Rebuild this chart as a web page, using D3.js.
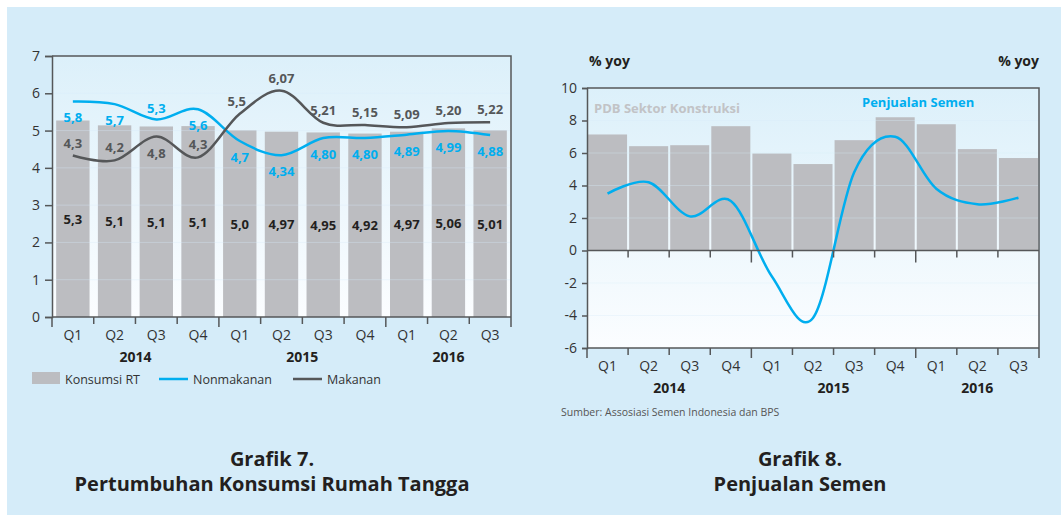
<!DOCTYPE html>
<html>
<head>
<meta charset="utf-8">
<script src="https://cdn.jsdelivr.net/npm/d3@7"></script>
<style>
  body { margin: 0; background: #fff; }
  svg { display: block; font-family: "Open Sans", "Noto Sans", sans-serif; }
</style>
</head>
<body>
<div id="chart"></div>
<script>
// Data
const quarters = ["Q1", "Q2", "Q3", "Q4", "Q1", "Q2", "Q3", "Q4", "Q1", "Q2", "Q3"];
const periods = ["2014Q1", "2014Q2", "2014Q3", "2014Q4", "2015Q1", "2015Q2", "2015Q3", "2015Q4", "2016Q1", "2016Q2", "2016Q3"];
const years = ["2014", "2015", "2016"];
const yearCounts = [4, 4, 3];

// Grafik 7
const konsumsiRT = [5.27, 5.14, 5.11, 5.12, 5.01, 4.97, 4.95, 4.92, 4.97, 5.06, 5.01];
const konsumsiLabels = ["5,3", "5,1", "5,1", "5,1", "5,0", "4,97", "4,95", "4,92", "4,97", "5,06", "5,01"];
const nonmakanan = [5.78, 5.71, 5.3, 5.57, 4.72, 4.34, 4.80, 4.80, 4.89, 4.99, 4.88];
const nonmakananLabels = ["5,8", "5,7", "5,3", "5,6", "4,7", "4,34", "4,80", "4,80", "4,89", "4,99", "4,88"];
const makanan = [4.33, 4.2, 4.84, 4.28, 5.45, 6.07, 5.21, 5.15, 5.09, 5.20, 5.22];
const makananLabels = ["4,3", "4,2", "4,8", "4,3", "5,5", "6,07", "5,21", "5,15", "5,09", "5,20", "5,22"];
const yTicks7 = [0, 1, 2, 3, 4, 5, 6, 7];

// Grafik 8
const konstruksi = [7.14, 6.42, 6.48, 7.65, 5.97, 5.32, 6.79, 8.2, 7.77, 6.24, 5.69];
const semen = [3.5, 4.2, 2.1, 3.05, -1.6, -4.15, 4.8, 7.0, 3.8, 2.85, 3.25];
const yTicks8 = [-6, -4, -2, 0, 2, 4, 6, 8, 10];

// label placement: 1 = below the point, -1 = above
const nonmakSide = [1, 1, -1, 1, 1, 1, 1, 1, 1, 1, 1];
const makSide = [-1, -1, 1, -1, -1, -1, -1, -1, -1, -1, -1];

const blue = "#00aeef";
const dark = "#555759";
const barColor = "#bcbdc1";
const textColor = "#333";

const width = 1061, height = 515;
const svg = d3.select("#chart").append("svg")
  .attr("width", width).attr("height", height)
  .attr("viewBox", [0, 0, width, height]);

const defs = svg.append("defs");
const grad = defs.append("linearGradient").attr("id", "plotBg")
  .attr("x1", 0).attr("y1", 0).attr("x2", 0).attr("y2", 1);
grad.append("stop").attr("offset", "0%").attr("stop-color", "#dcf0fa");
grad.append("stop").attr("offset", "100%").attr("stop-color", "#fbfdff");

// panel
svg.append("rect").attr("x", 7).attr("y", 7).attr("width", width - 7).attr("height", height - 7)
  .attr("fill", "#d5ecf9");

const fmt = d => String(d);

function yearAxis(g, x, yTop, yLabel, yYear, tickLen) {
  const bw = x.bandwidth();
  const [x0] = x.range();
  // ticks at band boundaries
  const bounds = d3.range(periods.length + 1).map(i => x0 + i * bw);
  let acc = 0;
  const yearStarts = yearCounts.map(c => { const s = acc; acc += c; return s; });
  g.selectAll(".bt").data(bounds).join("line")
    .attr("x1", d => d).attr("x2", d => d)
    .attr("y1", yTop)
    .attr("y2", (d, i) => yTop + (yearStarts.includes(i) || i === periods.length ? tickLen : tickLen - 3))
    .attr("stroke", dark).attr("stroke-width", 1.5);
  g.selectAll(".ql").data(quarters).join("text")
    .attr("x", (d, i) => x(periods[i]) + bw / 2)
    .attr("y", yLabel)
    .attr("text-anchor", "middle").attr("dominant-baseline", "central")
    .attr("font-size", 14).attr("fill", textColor)
    .text(d => d);
  g.selectAll(".yl").data(years).join("text")
    .attr("x", (d, i) => x0 + (yearStarts[i] + yearCounts[i] / 2) * bw)
    .attr("y", yYear)
    .attr("text-anchor", "middle").attr("dominant-baseline", "central")
    .attr("font-size", 14).attr("font-weight", "bold").attr("fill", "#231f20")
    .text(d => d);
}

// ---------- Grafik 7 ----------
{
  const left = 52, right = 511, top = 56, bottom = 317;
  const x = d3.scaleBand().domain(periods).range([left, right]).paddingInner(0.2).paddingOuter(0.1);
  const xb = d3.scaleBand().domain(periods).range([left, right]);
  const y = d3.scaleLinear().domain([0, 7]).range([bottom, top]);
  const g = svg.append("g");

  g.append("rect").attr("x", left).attr("y", top).attr("width", right - left).attr("height", bottom - top)
    .attr("fill", "url(#plotBg)");

  g.selectAll(".bar").data(konsumsiRT).join("rect")
    .attr("x", (d, i) => x(periods[i]))
    .attr("width", x.bandwidth())
    .attr("y", d => y(d))
    .attr("height", d => y(0) - y(d))
    .attr("fill", barColor);

  g.selectAll(".grid").data(yTicks7.slice(1, -1)).join("line")
    .attr("x1", left).attr("x2", right)
    .attr("y1", d => y(d)).attr("y2", d => y(d))
    .attr("stroke", "#d6ecf8").attr("stroke-opacity", 0.35);

  g.selectAll(".bl").data(konsumsiRT).join("text")
    .attr("x", (d, i) => xb(periods[i]) + xb.bandwidth() / 2)
    .attr("y", d => y(d / 2))
    .attr("text-anchor", "middle").attr("dominant-baseline", "central")
    .attr("font-size", 13).attr("font-weight", "bold").attr("fill", "#231f20")
    .text((d, i) => konsumsiLabels[i]);

  const line = d3.line()
    .x((d, i) => xb(periods[i]) + xb.bandwidth() / 2)
    .y(d => y(d))
    .curve(d3.curveCardinal.tension(0));

  g.append("path").datum(nonmakanan).attr("d", line)
    .attr("fill", "none").attr("stroke", blue).attr("stroke-width", 2.5);
  g.append("path").datum(makanan).attr("d", line)
    .attr("fill", "none").attr("stroke", dark).attr("stroke-width", 2.5);

  g.selectAll(".nl").data(nonmakanan).join("text")
    .attr("x", (d, i) => xb(periods[i]) + xb.bandwidth() / 2)
    .attr("y", (d, i) => y(d) + (nonmakSide[i] > 0 ? 16 : -11))
    .attr("text-anchor", "middle").attr("dominant-baseline", "central")
    .attr("font-size", 13).attr("font-weight", "bold").attr("fill", blue)
    .text((d, i) => nonmakananLabels[i]);
  g.selectAll(".ml").data(makanan).join("text")
    .attr("x", (d, i) => xb(periods[i]) + xb.bandwidth() / 2 - (i === 4 ? 3 : 0))
    .attr("y", (d, i) => y(d) + (makSide[i] > 0 ? 16 : -13))
    .attr("text-anchor", "middle").attr("dominant-baseline", "central")
    .attr("font-size", 13).attr("font-weight", "bold").attr("fill", dark)
    .text((d, i) => makananLabels[i]);

  // frame
  g.append("path")
    .attr("d", `M${left},${top}H${right}V${bottom}`)
    .attr("fill", "none").attr("stroke", dark).attr("stroke-width", 1.5);

  // y axis
  const ya = g.append("g").attr("transform", `translate(${left},0)`)
    .call(d3.axisLeft(y).tickValues(yTicks7).tickSize(7).tickPadding(5).tickFormat(fmt));
  ya.select(".domain").attr("stroke", dark).attr("stroke-width", 1.5);
  ya.selectAll(".tick line").attr("stroke", dark).attr("stroke-width", 1.5);
  ya.selectAll("text").attr("font-size", 14).attr("fill", textColor).attr("font-family", "Open Sans");

  g.append("line").attr("x1", left).attr("x2", right).attr("y1", bottom).attr("y2", bottom)
    .attr("stroke", dark).attr("stroke-width", 1.5);
  yearAxis(g.append("g"), xb, bottom, 334, 356, 10);

  // legend
  const lg = g.append("g");
  lg.append("rect").attr("x", 32).attr("y", 372).attr("width", 28).attr("height", 12).attr("fill", barColor);
  lg.append("text").attr("x", 65).attr("y", 379).text("Konsumsi RT");
  lg.append("line").attr("x1", 159).attr("x2", 188).attr("y1", 379).attr("y2", 379).attr("stroke", blue).attr("stroke-width", 2.5);
  lg.append("text").attr("x", 193).attr("y", 379).text("Nonmakanan");
  lg.append("line").attr("x1", 293).attr("x2", 322).attr("y1", 379).attr("y2", 379).attr("stroke", dark).attr("stroke-width", 2.5);
  lg.append("text").attr("x", 327).attr("y", 379).text("Makanan");
  lg.selectAll("text").attr("font-size", 12.5).attr("fill", textColor).attr("dominant-baseline", "central");

  svg.append("text").attr("x", 272).attr("y", 458).text("Grafik 7.");
  svg.append("text").attr("x", 272).attr("y", 483).text("Pertumbuhan Konsumsi Rumah Tangga");
}

// ---------- Grafik 8 ----------
{
  const left = 587, right = 1039, top = 88, bottom = 348;
  const x = d3.scaleBand().domain(periods).range([left, right]).paddingInner(0.05).paddingOuter(0.025);
  const xb = d3.scaleBand().domain(periods).range([left, right]);
  const y = d3.scaleLinear().domain([-6, 10]).range([bottom, top]);
  const g = svg.append("g");

  g.append("rect").attr("x", left).attr("y", top).attr("width", right - left).attr("height", bottom - top)
    .attr("fill", "url(#plotBg)");

  g.selectAll(".bar").data(konstruksi).join("rect")
    .attr("x", (d, i) => x(periods[i]))
    .attr("width", x.bandwidth())
    .attr("y", d => y(d))
    .attr("height", d => y(0) - y(d))
    .attr("fill", barColor);

  g.selectAll(".grid").data(yTicks8.filter(d => d !== 0 && d !== -6 && d !== 10)).join("line")
    .attr("x1", left).attr("x2", right)
    .attr("y1", d => y(d)).attr("y2", d => y(d))
    .attr("stroke", "#d6ecf8").attr("stroke-opacity", 0.35);

  const line = d3.line()
    .x((d, i) => xb(periods[i]) + xb.bandwidth() / 2)
    .y(d => y(d))
    .curve(d3.curveCardinal.tension(0));
  g.append("path").datum(semen).attr("d", line)
    .attr("fill", "none").attr("stroke", blue).attr("stroke-width", 2.5);

  g.append("text").attr("x", 594).attr("y", 108).attr("dominant-baseline", "central")
    .attr("font-size", 13).attr("font-weight", "bold").attr("fill", "#c2c3c6")
    .text("PDB Sektor Konstruksi");
  g.append("text").attr("x", 862).attr("y", 102).attr("dominant-baseline", "central")
    .attr("font-size", 13).attr("font-weight", "bold").attr("fill", blue)
    .text("Penjualan Semen");

  // frame
  g.append("path")
    .attr("d", `M${left},${top}H${right}V${bottom}`)
    .attr("fill", "none").attr("stroke", dark).attr("stroke-width", 1.5);

  const ya = g.append("g").attr("transform", `translate(${left},0)`)
    .call(d3.axisLeft(y).tickValues(yTicks8).tickSize(5).tickPadding(5).tickFormat(fmt));
  ya.select(".domain").attr("stroke", dark).attr("stroke-width", 1.5);
  ya.selectAll(".tick line").attr("stroke", dark).attr("stroke-width", 1.5);
  ya.selectAll("text").attr("font-size", 14).attr("fill", textColor).attr("font-family", "Open Sans");

  // zero line with ticks
  g.append("line").attr("x1", left).attr("x2", right).attr("y1", y(0)).attr("y2", y(0))
    .attr("stroke", dark).attr("stroke-width", 1.5);
  const zt = d3.range(1, periods.length).map(i => left + i * xb.bandwidth());
  g.selectAll(".zt").data(zt).join("line")
    .attr("x1", d => d).attr("x2", d => d)
    .attr("y1", y(0)).attr("y2", (d, i) => y(0) + (i === 3 || i === 7 ? 12 : 7))
    .attr("stroke", dark).attr("stroke-width", 1.5);

  g.append("line").attr("x1", left).attr("x2", right).attr("y1", bottom).attr("y2", bottom)
    .attr("stroke", dark).attr("stroke-width", 1.5);
  yearAxis(g.append("g"), xb, bottom, 365, 387, 10);

  g.append("text").attr("x", 589).attr("y", 60).attr("dominant-baseline", "central")
    .attr("font-size", 14).attr("font-weight", "bold").attr("fill", "#231f20").text("% yoy");
  g.append("text").attr("x", 1039).attr("y", 60).attr("dominant-baseline", "central").attr("text-anchor", "end")
    .attr("font-size", 14).attr("font-weight", "bold").attr("fill", "#231f20").text("% yoy");

  g.append("text").attr("x", 561).attr("y", 412).attr("dominant-baseline", "central")
    .attr("font-size", 10.5).attr("fill", "#555").text("Sumber: Assosiasi Semen Indonesia dan BPS");

  svg.append("text").attr("x", 800).attr("y", 458).text("Grafik 8.");
  svg.append("text").attr("x", 800).attr("y", 483).text("Penjualan Semen");
}

svg.selectAll("svg > text")
  .attr("text-anchor", "middle").attr("dominant-baseline", "central")
  .attr("font-size", 20).attr("font-weight", "bold").attr("fill", "#231f20");
</script>
</body>
</html>
